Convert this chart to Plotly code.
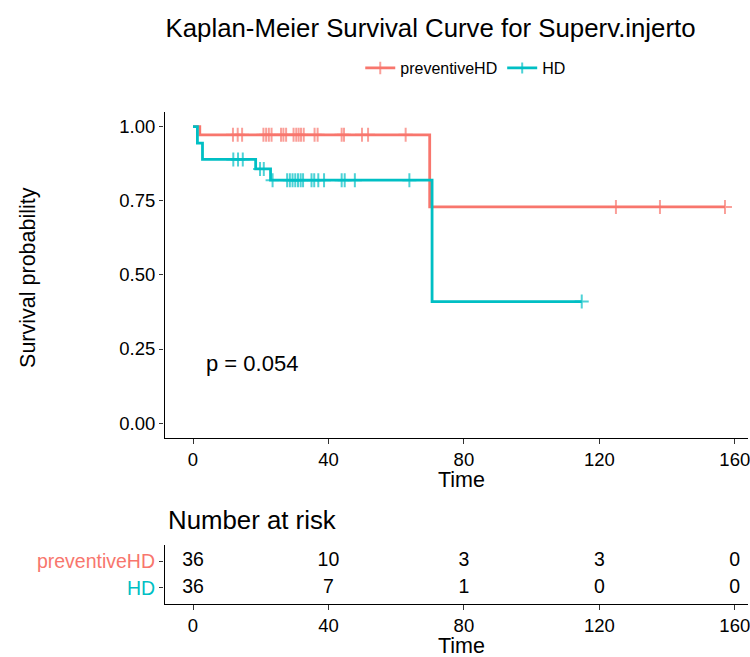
import numpy as np
import plotly.graph_objects as go

# ---------------- data ----------------
group_names = ["preventiveHD", "HD"]
group_colors = ["#F8766D", "#00BFC4"]

# Kaplan-Meier steps (time where the step starts, survival after it)
phd_step_times = [0.0, 2.0, 69.9, 157.1]
phd_step_surv = [1.0, 0.972, 0.729, 0.729]
phd_censor_times = [11.8, 13.2, 14.5, 20.8, 21.6, 22.4, 23.2, 26.0, 26.7, 27.5,
                    29.7, 30.5, 31.2, 31.9, 32.7, 35.9, 36.8, 43.9, 44.6, 49.9,
                    51.7, 62.8, 124.9, 137.9, 157.1]

hd_step_times = [0.0, 1.3, 2.8, 18.5, 22.9, 70.6, 114.8]
hd_step_surv = [1.0, 0.944, 0.889, 0.857, 0.819, 0.410, 0.410]
hd_censor_times = [11.9, 13.3, 14.7, 19.8, 20.9, 23.5, 27.8, 28.6, 29.4, 30.2,
                   31.0, 31.8, 32.5, 35.0, 35.8, 37.0, 38.7, 43.9, 44.8, 47.8,
                   63.9, 114.8]

p_value_text = "p = 0.054"

risk_times = [0, 40, 80, 120, 160]
risk_phd = [36, 10, 3, 3, 0]
risk_hd = [36, 7, 1, 0, 0]

x_ticks = [0, 40, 80, 120, 160]
y_ticks = [0, 0.25, 0.5, 0.75, 1.0]

# ---------------- helpers ----------------
FONT = "Liberation Sans, Arial, Helvetica, sans-serif"
W, H = 750, 657


def px_x(p):
    return p / W


def px_y(p):
    return 1 - p / H


def km_points(step_t, step_s, cens_t):
    st = np.array(step_t)
    ss = np.array(step_s)
    allt = sorted(set(step_t) | set(cens_t))
    ys, sizes = [], []
    cset = set(cens_t)
    for t in allt:
        idx = np.searchsorted(st, t, side="right") - 1
        ys.append(float(ss[idx]))
        sizes.append(10 if t in cset else 0)
    return allt, ys, sizes


fig = go.Figure()

for name, color, st, ss, ct in [
    (group_names[0], group_colors[0], phd_step_times, phd_step_surv, phd_censor_times),
    (group_names[1], group_colors[1], hd_step_times, hd_step_surv, hd_censor_times),
]:
    xs, ys, sizes = km_points(st, ss, ct)
    fig.add_trace(go.Scatter(
        x=xs, y=ys, mode="lines+markers", name=name,
        line=dict(color=color, width=2.8, shape="hv"),
        marker=dict(symbol="cross-thin-open", size=sizes, color=color,
                    line=dict(color=color, width=2)),
        xaxis="x", yaxis="y", hoverinfo="x+y+name",
    ))

# risk table numbers
fig.add_trace(go.Scatter(
    x=risk_times, y=[2] * len(risk_times), mode="text",
    text=[str(v) for v in risk_phd], textposition="middle center",
    textfont=dict(size=19.5, color="black", family=FONT),
    showlegend=False, xaxis="x2", yaxis="y2", hoverinfo="skip"))
fig.add_trace(go.Scatter(
    x=risk_times, y=[1] * len(risk_times), mode="text",
    text=[str(v) for v in risk_hd], textposition="middle center",
    textfont=dict(size=19.5, color="black", family=FONT),
    showlegend=False, xaxis="x2", yaxis="y2", hoverinfo="skip"))

xrange_ = [-8.4, 163.9]
axis_common = dict(showline=True, linecolor="black", linewidth=1.2,
                   ticks="outside", ticklen=4.5, tickcolor="#333333", tickwidth=1.1,
                   showgrid=False, zeroline=False)
tick_font = dict(size=18.5, color="black", family=FONT)

fig.update_layout(
    width=W, height=H,
    margin=dict(l=0, r=0, t=0, b=0),
    paper_bgcolor="white", plot_bgcolor="white",
    font=dict(family=FONT, color="black"),
    title=dict(text="Kaplan-Meier Survival Curve for Superv.injerto",
               x=px_x(166), xanchor="left", xref="paper",
               y=px_y(28), yanchor="middle", yref="paper",
               font=dict(size=25.8, color="black", family=FONT)),
    legend=dict(orientation="h", x=px_x(467), xanchor="center",
                y=px_y(68), yanchor="middle",
                font=dict(size=16, color="black", family=FONT),
                itemwidth=30, bgcolor="rgba(0,0,0,0)"),
    xaxis=dict(domain=[px_x(165), 1], range=xrange_, anchor="y",
               tickvals=x_ticks, ticklabeloverflow="allow", tickfont=tick_font,
               **axis_common),
    yaxis=dict(domain=[px_y(438), px_y(111.7)], range=[-0.05, 1.05], anchor="x",
               tickvals=y_ticks, tickformat=".2f", tickfont=tick_font, **axis_common),
    xaxis2=dict(domain=[px_x(165), 1], range=xrange_, anchor="y2",
                tickvals=x_ticks, ticklabeloverflow="allow", tickfont=tick_font,
                **axis_common),
    yaxis2=dict(domain=[px_y(604), px_y(545)], range=[0.4, 2.6], anchor="x2",
                tickvals=[1, 2],
                ticktext=[f"<span style='color:{group_colors[1]}'>{group_names[1]}</span>",
                          f"<span style='color:{group_colors[0]}'>{group_names[0]}</span>"],
                tickfont=dict(size=19.5, family=FONT), **axis_common),
    showlegend=True,
)

ann_font = dict(size=21.5, color="black", family=FONT)
annotations = [
    dict(text="Survival probability", x=px_x(28), y=px_y(277), xref="paper", yref="paper",
         xanchor="center", yanchor="middle",
         textangle=-90, showarrow=False, font=ann_font),
    dict(text="Time", x=px_x(463), y=px_y(480), xref="paper", yref="paper",
         xanchor="center", yanchor="middle", showarrow=False, font=ann_font,
         borderpad=0),
    dict(text="Time", x=px_x(463), y=px_y(646), xref="paper", yref="paper",
         xanchor="center", yanchor="middle", showarrow=False, font=ann_font,
         borderpad=0),
    dict(text="Number at risk", x=px_x(166), y=px_y(520), xref="paper", yref="paper",
         xanchor="left", yanchor="middle", showarrow=False,
         font=dict(size=25.8, color="black", family=FONT)),
    dict(text=p_value_text, x=max(phd_step_times + hd_step_times) / 50, y=0.2,
         xref="x", yref="y", xanchor="left", yanchor="middle", showarrow=False,
         font=dict(size=22, color="black", family=FONT)),
]
fig.update_layout(annotations=annotations)

fig.write_html("out.html", config={"displayModeBar": False},
               post_script="document.body.style.margin='0';document.body.style.padding='0';")
